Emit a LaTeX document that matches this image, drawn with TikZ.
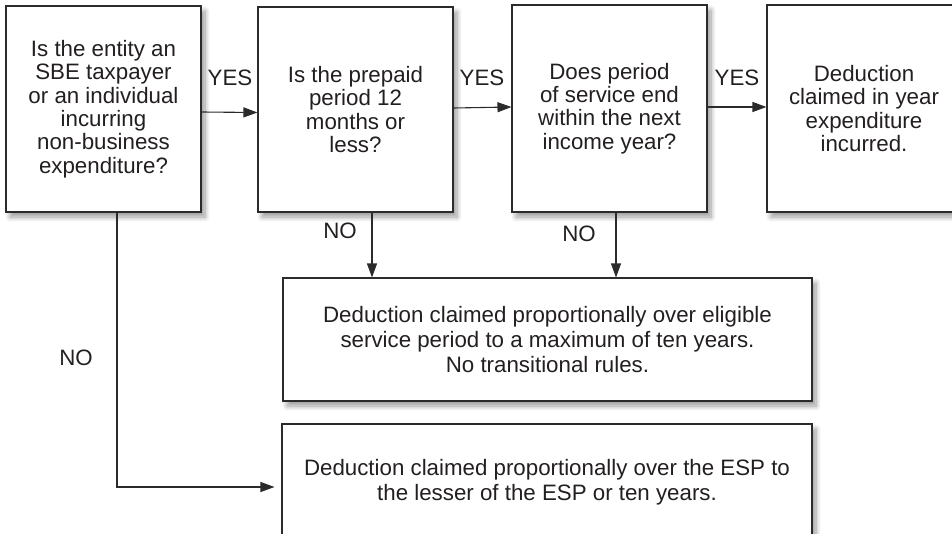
\documentclass[tikz,border=0pt]{standalone}
\usepackage{fontspec}
\setmainfont{Liberation Sans}
\usetikzlibrary{arrows.meta,shadows.blur}
\definecolor{inkc}{HTML}{231F20}
\definecolor{linec}{HTML}{2B2B2B}
\tikzset{
  box/.style={draw=linec, line width=1.1pt, fill=white, text=inkc, align=center,
    inner sep=0pt, font=\fontsize{22.3}{23.4}\selectfont,
    blur shadow={shadow xshift=4pt, shadow yshift=-5pt, shadow blur steps=10, shadow blur radius=5pt, shadow opacity=40}},
  widebox/.style={box, font=\fontsize{22.3}{24.8}\selectfont},
  lbl/.style={text=inkc, font=\fontsize{22.3}{23.4}\selectfont, inner sep=0pt},
  arr/.style={draw=linec, line width=1.1pt, -{Triangle[length=14pt,width=10pt]}}
}
\begin{document}
\begin{tikzpicture}[x=1pt,y=-1pt]
\useasboundingbox (0,0) rectangle (952,533);
\node[box, minimum width=195pt, minimum height=206pt] (b1) at (103.5,109) {Is the entity an\\SBE taxpayer\\or an individual\\incurring\\non-business\\expenditure?};
\node[box, minimum width=195pt, minimum height=205pt] (b2) at (355.5,109.5) {Is the prepaid\\period 12\\months or\\less?};
\node[box, minimum width=195pt, minimum height=207pt] (b3) at (609.5,108.5) {Does period\\of service end\\within the next\\income year?};
\node[box, minimum width=194pt, minimum height=207pt] (b4) at (864,108.5) {Deduction\\claimed in year\\expenditure\\incurred.};
\node[widebox, minimum width=529pt, minimum height=123pt] (b5) at (547.5,339.5) {Deduction claimed proportionally over eligible\\service period to a maximum of ten years.\\No transitional rules.};
\node[widebox, minimum width=530pt, minimum height=116pt] (b6) at (547,482) {Deduction claimed proportionally over the ESP to\\the lesser of the ESP or ten years.};

\draw[arr] ([yshift=-3pt]b1.east) -- ([yshift=-3pt]b2.west);
\draw[arr] ([yshift=1.5pt]b2.east) -- ([yshift=1.5pt]b3.west);
\draw[arr] ([yshift=1.5pt]b3.east) -- ([yshift=1.5pt]b4.west);
\draw[arr] ([xshift=16.5pt]b2.south) -- ([xshift=16.5pt]b2.south |- b5.north);
\draw[arr] ([xshift=6.5pt]b3.south) -- ([xshift=6.5pt]b3.south |- b5.north);
\draw[arr, shorten >=7pt] ([xshift=13.5pt]b1.south) |- ([yshift=-5pt]b6.west);

\node[lbl] (y1) at (230,78) {YES};
\node[lbl] (y2) at (482,78) {YES};
\node[lbl] (y3) at (737,78) {YES};
\node[lbl] (n1) at (340,231) {NO};
\node[lbl] (n2) at (579,234) {NO};
\node[lbl] (n3) at (76,358) {NO};
\end{tikzpicture}
\end{document}
